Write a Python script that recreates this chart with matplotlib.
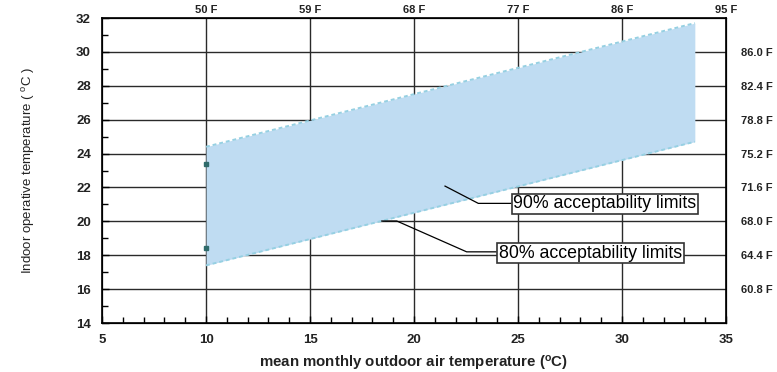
import matplotlib.pyplot as plt
from matplotlib.ticker import MultipleLocator

plt.rcParams['font.family'] = ['Liberation Sans', 'DejaVu Sans']

# band of acceptable indoor temperatures (80% limits)
t_out = [10, 33.5]
upper80 = [24.4, 31.7]
lower80 = [17.4, 24.7]
# 90% limit end points at 10 C
t90 = [10, 10]
lim90 = [23.4, 18.4]

x_ticks = [5, 10, 15, 20, 25, 30, 35]
y_ticks = [14, 16, 18, 20, 22, 24, 26, 28, 30, 32]
top_ticks = [10, 15, 20, 25, 30, 35]
top_labels = ['50 F', '59 F', '68 F', '77 F', '86 F', '95 F']
right_ticks = [30, 28, 26, 24, 22, 20, 18, 16]
right_labels = ['86.0 F', '82.4 F', '78.8 F', '75.2 F', '71.6 F', '68.0 F', '64.4 F', '60.8 F']

fig = plt.figure(figsize=(7.77, 3.72), dpi=100)
ax = fig.add_axes([0.1313, 0.1317, 0.8031, 0.8199])
ax.set_xlim(5, 35)
ax.set_ylim(14, 32)

# grid
for xv in [10, 15, 20, 25, 30]:
    ax.axvline(xv, color='#2a2a2a', lw=1.0, zorder=1)
for yv in right_ticks:
    ax.axhline(yv, color='#2a2a2a', lw=1.0, zorder=1)

ax.fill_between(t_out, lower80, upper80, color='#bfdcf2', lw=0, zorder=2)
ax.plot(t_out, upper80, color='#96d0e2', lw=1.4, ls=(0, (2, 1.5)), zorder=3)
ax.plot(t_out, lower80, color='#96d0e2', lw=1.4, ls=(0, (2, 1.5)), zorder=3)
ax.plot(t90, lim90, 's', color='#2f6b6b', ms=2.5, zorder=4)

# annotations
ax.plot([21.49, 23.09, 24.65], [22.08, 21.06, 21.06], color='black', lw=0.9, zorder=4)
ax.plot([18.45, 19.17, 22.53, 23.94], [20.02, 20.02, 18.2, 18.2], color='black', lw=0.9, zorder=4)
box = dict(boxstyle='square,pad=0.1', fc='white', ec='#333333', lw=1.2)
ax.text(24.78, 21.03, '90% acceptability limits', fontsize=12.8, va='center', ha='left',
        bbox=box, zorder=5)
ax.text(24.08, 18.13, '80% acceptability limits', fontsize=12.8, va='center', ha='left',
        bbox=box, zorder=5)

ax.set_xticks(x_ticks)
ax.set_yticks(y_ticks)
ax.xaxis.set_minor_locator(MultipleLocator(1))
ax.yaxis.set_minor_locator(MultipleLocator(1))
ax.tick_params(which='both', direction='in', top=False, right=False)
ax.tick_params(which='major', length=5, width=1, pad=8)
ax.tick_params(which='minor', length=4, width=1)
for lab in ax.get_xticklabels() + ax.get_yticklabels():
    lab.set_fontweight('bold')
    lab.set_fontsize(9.5)
    lab.set_color('#222222')
for s in ax.spines.values():
    s.set_linewidth(1.2)

ax.set_xlabel('mean monthly outdoor air temperature ($\\mathregular{^{o}}$C)', fontsize=10.8,
              fontweight='bold', labelpad=6, color='#222222')
ax.set_ylabel('Indoor operative temperature ( $\\mathregular{^{o}}$C )', fontsize=9.5,
              family=['Liberation Sans Narrow', 'Liberation Sans'], labelpad=28, color='#222222')

axt = ax.twiny()
axt.set_xlim(5, 35)
axt.set_xticks(top_ticks)
axt.set_xticklabels(top_labels, fontsize=8, fontweight='bold', color='#222222')
axt.tick_params(length=0, pad=2)

axr = ax.twinx()
axr.set_ylim(14, 32)
axr.set_yticks(right_ticks)
axr.set_yticklabels(right_labels, fontsize=8, fontweight='bold', color='#222222')
axr.tick_params(length=0, pad=11)

fig.savefig('out.png', dpi=100)
